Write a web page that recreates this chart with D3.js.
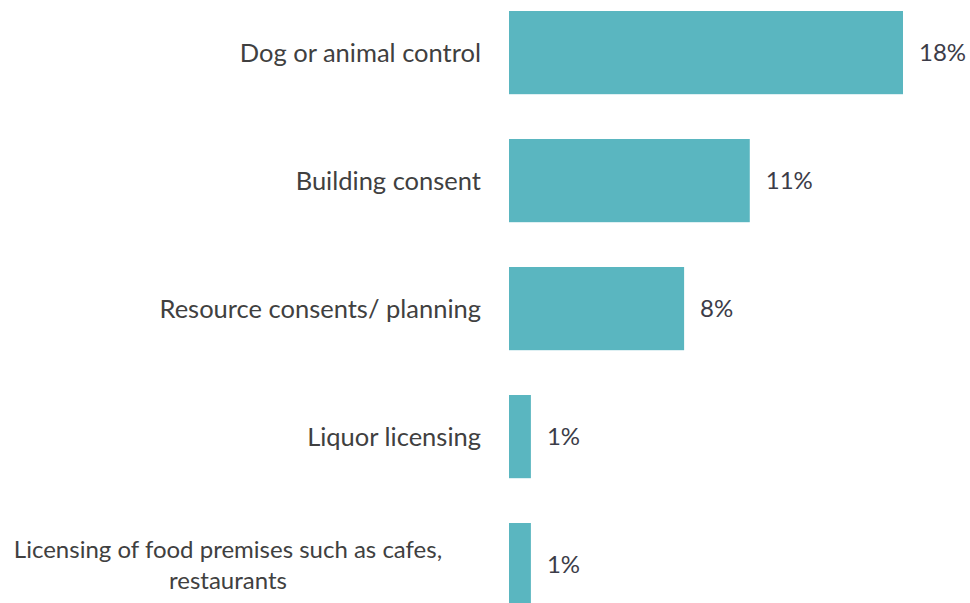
<!DOCTYPE html>
<html>
<head>
<meta charset="utf-8">
<script src="https://cdn.jsdelivr.net/npm/d3@7"></script>
<style>
  html, body { margin: 0; padding: 0; background: #fff; }
  svg { display: block; font-family: Lato, "Open Sans", sans-serif; }
</style>
</head>
<body>
<svg id="chart" width="970" height="603"></svg>
<script>
// Share of respondents by council service
const categories = [
  "Dog or animal control",
  "Building consent",
  "Resource consents/ planning",
  "Liquor licensing",
  "Licensing of food premises such as cafes,\nrestaurants"
];
const values = [18, 11, 8, 1, 1];

const svg = d3.select("#chart");
const barColor = "#5AB6C0";
const labelColor = "#404040";
const valueColor = "#3C3C48";

const x = d3.scaleLinear().domain([0, 18]).range([509, 903]);
const y = d3.scaleBand()
  .domain(categories)
  .range([-11.4, 628.6])
  .paddingInner(0.35)
  .paddingOuter(0.175);

const rows = svg.selectAll("g.row")
  .data(categories.map((c, i) => ({ c, v: values[i] })))
  .join("g")
  .attr("class", "row");

rows.append("rect")
  .attr("x", x(0))
  .attr("y", d => y(d.c))
  .attr("width", d => x(d.v) - x(0))
  .attr("height", y.bandwidth())
  .attr("fill", barColor);

rows.append("text")
  .attr("x", d => x(d.v) + 16)
  .attr("y", d => y(d.c) + y.bandwidth() / 2)
  .attr("dy", "0.35em")
  .attr("font-size", 24)
  .attr("fill", valueColor)
  .text(d => d.v + "%");

// Category labels: single lines right-aligned, wrapped labels centred
rows.each(function(d) {
  const lines = d.c.split("\n");
  const g = d3.select(this);
  const cy = y(d.c) + y.bandwidth() / 2;
  const lh = 31;
  const t = g.append("text")
    .attr("font-size", lines.length > 1 ? 24 : 25.5)
    .attr("fill", labelColor)
    .attr("text-anchor", lines.length > 1 ? "middle" : "end");
  lines.forEach((ln, i) => {
    t.append("tspan")
      .attr("x", lines.length > 1 ? 228 : 481)
      .attr("y", cy + (i - (lines.length - 1) / 2) * lh)
      .attr("dy", "0.35em")
      .text(ln);
  });
});
</script>
</body>
</html>
